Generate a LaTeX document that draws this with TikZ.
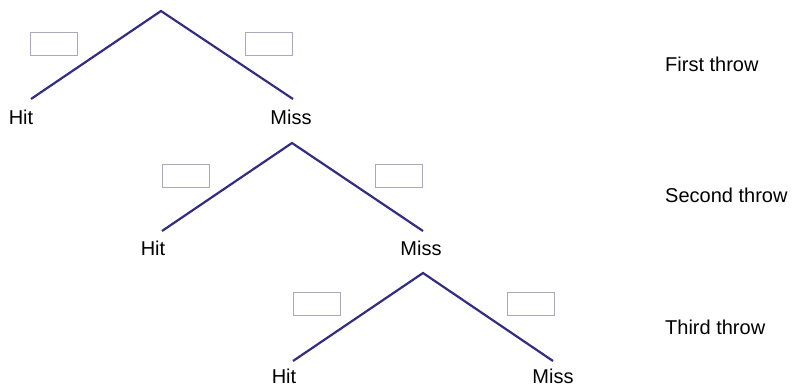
\documentclass[tikz,border=0pt]{standalone}
\usepackage{fontspec}
\setmainfont{Liberation Sans}
\definecolor{branch}{HTML}{332D82}
\definecolor{boxline}{HTML}{A9A9BE}
\begin{document}
\begin{tikzpicture}[x=1pt,y=-1pt,
  branchline/.style={draw=branch,line width=2.2pt},
  blank/.style={draw=boxline,line width=0.8pt,minimum width=47pt,minimum height=23pt,inner sep=0pt},
  lbl/.style={font=\fontsize{20}{22}\selectfont,inner sep=0pt}]
\useasboundingbox (0,0) rectangle (794,387);
% tree 1
\coordinate (a1) at (161,11);
\coordinate (h1) at (31,99);
\coordinate (m1) at (293,99);
\draw[branchline] (h1) -- (a1) -- (m1);
\node[lbl] (th1) at (21,117) {Hit};
\node[lbl] (tm1) at (291,117) {Miss};
\node[blank] (b1l) at (54,43.5) {};
\node[blank] (b1r) at (269,43.5) {};
% tree 2
\coordinate (a2) at (292,143);
\coordinate (h2) at (162,231);
\coordinate (m2) at (423,231);
\draw[branchline] (h2) -- (a2) -- (m2);
\node[lbl] (th2) at (153,248) {Hit};
\node[lbl] (tm2) at (421,248) {Miss};
\node[blank] (b2l) at (185.5,175.5) {};
\node[blank] (b2r) at (399,175.5) {};
% tree 3
\coordinate (a3) at (423,273);
\coordinate (h3) at (293,361);
\coordinate (m3) at (553,361);
\draw[branchline] (h3) -- (a3) -- (m3);
\node[lbl] (th3) at (284,376.5) {Hit};
\node[lbl] (tm3) at (553,376.5) {Miss};
\node[blank] (b3l) at (316.5,304) {};
\node[blank] (b3r) at (530.5,304) {};
% throw labels
\node[lbl,anchor=west] (f1) at (665,64) {First throw};
\node[lbl,anchor=west] (f2) at (665,195) {Second throw};
\node[lbl,anchor=west] (f3) at (665,327) {Third throw};
\end{tikzpicture}
\end{document}
